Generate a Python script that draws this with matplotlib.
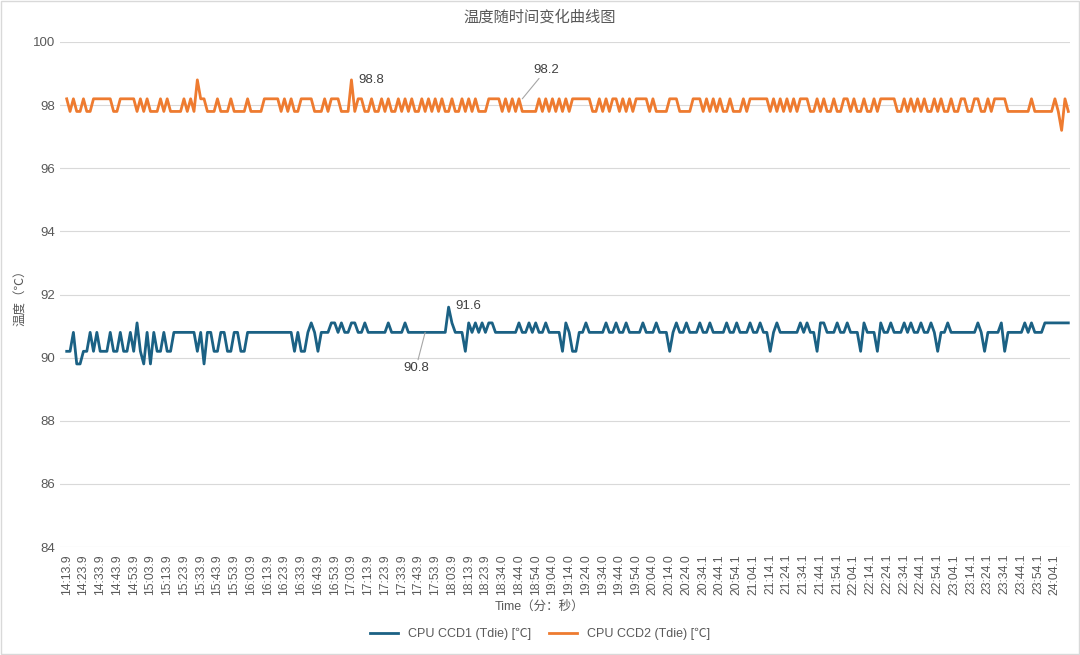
import matplotlib
matplotlib.use("Agg")
import matplotlib.pyplot as plt
import numpy as np

plt.rcParams['font.family'] = ['Liberation Sans', 'Noto Sans CJK SC', 'DejaVu Sans']

ticks_labels = (["%d:%02d.9" % divmod(14*60+13+10*i, 60) for i in range(26)] +
                ["18:34.0","18:44.0","18:54.0","19:04.0","19:14.0","19:24.0","19:34.0","19:44.0","19:54.0","20:04.0","20:14.0","20:24.0"] +
                ["20:34.1","20:44.1","20:54.1","21:04.1","21:14.1","21:24.1","21:34.1","21:44.1","21:54.1","22:04.1","22:14.1","22:24.1",
                 "22:34.1","22:44.1","22:54.1","23:04.1","23:14.1","23:24.1","23:34.1","23:44.1","23:54.1","24:04.1"])

ccd2_codes = ("HLHLLHLLHH" "HHHHLLHHHH" "HLHLHLLLHL" "HLLLLHLHLS" "HHLLLHLLLH"
              "LLLLHLLLLH" "HHHHLHLHLL" "HHHHLLLHLH" "HHLLLSLHHL" "LHLLHLHLLH"
              "LHLHLLHLHL" "HLHLLHLLHL" "HLHLLLHHHH" "LHLHLHLLLL" "LHLHLHLHLH"
              "LHHHHHHLLH" "LHLHHLHLHL" "HHHHLHLLLL" "HHHLLLLHHH" "LHLHLHLLHL"
              "LLHLHHHHHH" "LHLHLHLHLH" "HHLLHLHLLH" "LLHHLHLLHL" "LHLHHHHHLL"
              "HLHLHLHLLH" "LHLLHLLHHL" "LHHLLHLHHH" "HLLLLLLLHL" "LLLLLHLDHL")
ccd1_codes = ("aabddaabab" "aaabaabaab" "acadbdbaab" "aabbbbbbba" "bdbbaabbaa"
              "bbaabbbbbb" "bbbbbbbbab" "aabcbabbbc" "cbcbbccbbc" "bbbbbbcbbb"
              "bcbbbbbbbb" "bbbbecbbba" "cbcbcbccbb" "bbbbbcbbcb" "cbbcbbbbac"
              "baabbcbbbb" "bcbbcbbcbb" "bbcbbbcbbb" "abcbbcbbbc" "bbcbbbbcbb"
              "cbbbcbbcbb" "abcbbbbbbc" "bcbbaccbbb" "cbbcbbbacb" "bbacbbcbbb"
              "cbcbbcbbcb" "abbcbbbbbb" "bbcbabbbbc" "abbbbbcbcb" "bbcccccccc")
ccd2_levels = {"H": 98.2, "L": 97.8, "S": 98.8, "D": 97.2}
ccd1_levels = {"a": 90.2, "b": 90.8, "c": 91.1, "d": 89.8, "e": 91.6}
ccd2 = [ccd2_levels[c] for c in ccd2_codes]
ccd1 = [ccd1_levels[c] for c in ccd1_codes]

x = np.arange(len(ccd1))
fig = plt.figure(figsize=(10.8, 6.55), dpi=100)
ax = fig.add_axes([60/1080, 1-547/655, 1010/1080, 505/655])
fig.patches.append(plt.Rectangle((0.001, 0.001), 0.998, 0.997, transform=fig.transFigure,
                                 fill=False, ec='#d9d9d9', lw=1))
blue = '#1b6184'; orange = '#ee7b30'
ax.plot(x, ccd1, color=blue, lw=2, label='CPU CCD1 (Tdie) [℃]')
ax.plot(x, ccd2, color=orange, lw=2, label='CPU CCD2 (Tdie) [℃]')
ax.set_ylim(84, 100)
ax.set_yticks(range(84, 101, 2))
ax.set_xlim(-2, len(x) - 0.5)
ax.set_xticks(x[::5][:len(ticks_labels)])
ax.set_xticklabels(ticks_labels, rotation=90, fontsize=8.8, color='#595959')
ax.tick_params(axis='y', labelsize=9.5, colors='#595959', length=0)
ax.tick_params(axis='x', length=0, pad=5)
ax.grid(axis='y', color='#d9d9d9', lw=0.8)
for s in ax.spines.values():
    s.set_visible(False)
ax.set_axisbelow(True)
ax.set_ylabel('温度（℃）', fontsize=9, color='#595959')
fig.text(0.5, 1-607/655, 'Time（分：秒）', ha='center', va='center', fontsize=9, color='#595959')
fig.text(0.5, 1-17/655, '温度随时间变化曲线图', ha='center', va='center', fontsize=11, color='#595959')

def ann(i, y, txt, dx, dy, line=False):
    ax.annotate(txt, (i, y), xytext=(dx, dy), textcoords='offset points', fontsize=9.5, color='#404040',
                ha='left', va='center',
                arrowprops=dict(arrowstyle='-', color='#a6a6a6', lw=0.8, shrinkA=0, shrinkB=0) if line else None)
ann(85, 98.8, '98.8', 5, 0)
ann(136, 98.2, '98.2', 8, 21, True)
ann(114, 91.6, '91.6', 5, 1)
ann(107, 90.8, '90.8', -16, -26, True)

fig.legend(loc='lower center', bbox_to_anchor=(0.5, 0.005), ncol=2, frameon=False, fontsize=9,
           labelcolor='#595959', handlelength=2.2, columnspacing=1.5)
fig.savefig('out.png', dpi=100)
